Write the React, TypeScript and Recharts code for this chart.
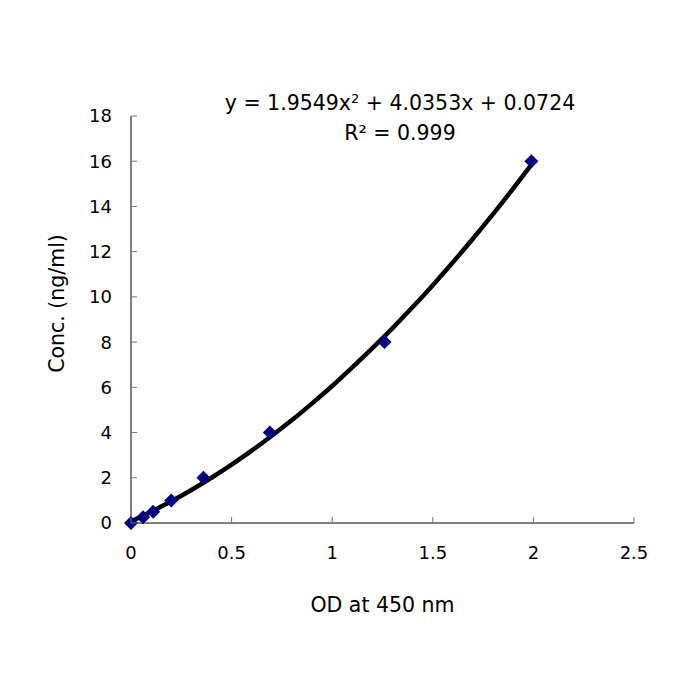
import React from 'react'
import { ComposedChart, Line, Scatter, XAxis, YAxis, Label } from 'recharts'

// measured standards
const odValues = [0, 0.06, 0.11, 0.2, 0.36, 0.69, 1.26, 1.99]
const concValues = [0, 0.25, 0.5, 1, 2, 4, 8, 16]

// trendline
const curveOd = [0, 0.1, 0.2, 0.3, 0.4, 0.5, 0.6, 0.7, 0.8, 0.9, 1.0, 1.1, 1.2, 1.3, 1.4, 1.5, 1.6, 1.7, 1.8, 1.9, 2.0]
const curveConc = [0.07, 0.5, 0.96, 1.46, 2.0, 2.58, 3.2, 3.86, 4.55, 5.29, 6.06, 6.88, 7.73, 8.62, 9.55, 10.52, 11.53, 12.58, 13.67, 14.8, 15.96]

const xTicks = [0, 0.5, 1, 1.5, 2, 2.5]
const yTicks = [0, 2, 4, 6, 8, 10, 12, 14, 16, 18]

const points = odValues.map((od, i) => ({ od, conc: concValues[i] }))
const curve = curveOd.map((od, i) => ({ od, conc: curveConc[i] }))

const font = '"DejaVu Sans", Verdana, sans-serif'
const X_MARGIN = 23
const Y_MARGIN = 19

const Diamond = (props: any) => {
  const { cx, cy } = props
  const r = 7
  return (
    <polygon
      points={`${cx},${cy - r} ${cx + r},${cy} ${cx},${cy + r} ${cx - r},${cy}`}
      fill="#000080"
    />
  )
}

// ticks point inward, like the Excel original
const XTick = (props: any) => {
  const { x, y, payload } = props
  const axisY = y - X_MARGIN
  return (
    <g>
      <line x1={x} x2={x} y1={axisY} y2={axisY - 6} stroke="#777" />
      <text x={x} y={y} dy="0.71em" textAnchor="middle" fill="#000" fontSize={18} fontFamily={font}>
        {payload.value}
      </text>
    </g>
  )
}

const YTick = (props: any) => {
  const { x, y, payload } = props
  const axisX = x + Y_MARGIN
  return (
    <g>
      <line x1={axisX} x2={axisX + 6} y1={y} y2={y} stroke="#777" />
      <text x={x} y={y} dy="0.355em" textAnchor="end" fill="#000" fontSize={18} fontFamily={font}>
        {payload.value}
      </text>
    </g>
  )
}

const YTitle = (props: any) => {
  const { viewBox } = props
  const cx = viewBox.x - 14
  const cy = viewBox.y + viewBox.height / 2 - 16
  return (
    <text
      x={cx}
      y={cy}
      transform={`rotate(-90, ${cx}, ${cy})`}
      textAnchor="middle"
      dominantBaseline="central"
      fill="#000"
      fontSize={20.5}
      fontFamily={font}
    >
      Conc. (ng/ml)
    </text>
  )
}

export default function App() {
  return (
    <div style={{ position: 'absolute', left: 0, top: 0, width: 700, height: 700, background: '#fff', fontFamily: font }}>
      <ComposedChart
        width={700}
        height={700}
        margin={{ top: 116, right: 66, bottom: 147, left: 71 }}
      >
        <XAxis
          type="number"
          dataKey="od"
          domain={[0, 2.5]}
          ticks={xTicks}
          allowDuplicatedCategory={false}
          height={30}
          stroke="#000"
          tickSize={0}
          tickMargin={X_MARGIN}
          tickLine={false}
          tick={<XTick />}
        >
          <Label value="OD at 450 nm" position="bottom" offset={44} style={{ fill: '#000', fontSize: 20.5, fontFamily: font }} />
        </XAxis>
        <YAxis
          type="number"
          dataKey="conc"
          domain={[0, 18]}
          ticks={yTicks}
          width={60}
          stroke="#000"
          tickSize={0}
          tickMargin={Y_MARGIN}
          tickLine={false}
          tick={<YTick />}
        >
          <Label content={<YTitle />} />
        </YAxis>
        <Scatter data={points} dataKey="conc" shape={<Diamond />} isAnimationActive={false} />
        <Line data={curve} dataKey="conc" type="monotone" stroke="#000" strokeWidth={4.5} dot={false} isAnimationActive={false} />
      </ComposedChart>
      <div style={{ position: 'absolute', left: 0, width: 800, top: 88, textAlign: 'center', fontSize: 20.5, lineHeight: '30px', color: '#000' }}>
        y = 1.9549x<sup style={{ fontSize: 13, verticalAlign: 'top', lineHeight: '22px' }}>2</sup> + 4.0353x + 0.0724
        <br />
        R² = 0.999
      </div>
    </div>
  )
}
